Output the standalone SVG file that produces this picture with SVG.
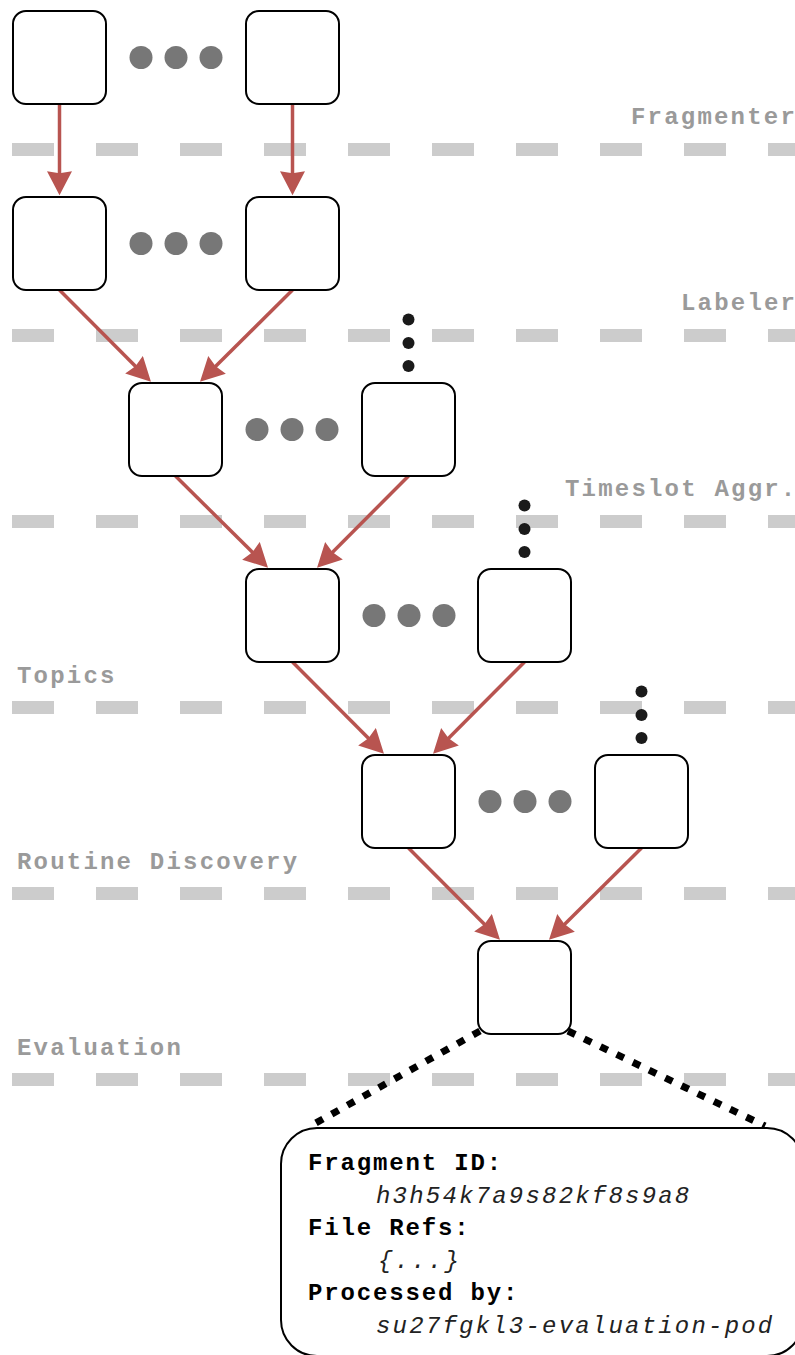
<svg xmlns="http://www.w3.org/2000/svg" width="795" height="1355" viewBox="0 0 795 1355">
  <style>
    .box { fill: #ffffff; stroke: #000000; stroke-width: 2; }
    .lane { stroke: #cccccc; stroke-width: 13; stroke-dasharray: 42 42; fill: none; }
    .lane-label { font-family: "Courier New", "Liberation Mono", monospace; font-weight: bold; font-size: 24px; letter-spacing: 2.2px; fill: #9a9a9a; }
    .more-h { fill: #777777; }
    .more-v { fill: #1a1a1a; }
    .flow { stroke: #b85450; stroke-width: 3.5; fill: none; marker-end: url(#head); }
    .zoom { stroke: #000000; stroke-width: 7; stroke-dasharray: 8 10; fill: none; }
    .key { font-family: "Courier New", "Liberation Mono", monospace; font-weight: bold; font-size: 24px; letter-spacing: 1.85px; fill: #000000; }
    .val { font-family: "Courier New", "Liberation Mono", monospace; font-style: italic; font-size: 24px; letter-spacing: 2.2px; fill: #222222; }
  </style>
  <defs>
    <marker id="head" markerUnits="userSpaceOnUse" markerWidth="26" markerHeight="26" refX="14" refY="12.5" orient="auto">
      <path d="M0,0 L24,12.5 L0,25 L2,12.5 Z" fill="#b85450"/>
    </marker>
  </defs>

  <!-- stage lanes -->
  <g id="lanes">
    <line class="lane" x1="12" y1="149.5" x2="795" y2="149.5"/>
    <line class="lane" x1="12" y1="335.5" x2="795" y2="335.5"/>
    <line class="lane" x1="12" y1="521.5" x2="795" y2="521.5"/>
    <line class="lane" x1="12" y1="707.5" x2="795" y2="707.5"/>
    <line class="lane" x1="12" y1="893.5" x2="795" y2="893.5"/>
    <line class="lane" x1="12" y1="1079.5" x2="795" y2="1079.5"/>
    <text class="lane-label" x="631" y="124">Fragmenter</text>
    <text class="lane-label" x="681" y="310">Labeler</text>
    <text class="lane-label" x="565" y="496">Timeslot Aggr.</text>
    <text class="lane-label" x="17" y="683">Topics</text>
    <text class="lane-label" x="17" y="869">Routine Discovery</text>
    <text class="lane-label" x="17" y="1055">Evaluation</text>
  </g>

  <!-- connectors -->
  <g id="connectors">
    <line class="flow" x1="59.5" y1="104" x2="59.5" y2="185.2"/>
    <line class="flow" x1="292.5" y1="104" x2="292.5" y2="185.2"/>
    <line class="flow" x1="59.5" y1="290" x2="143.9" y2="374.65"/>
    <line class="flow" x1="292.5" y1="290" x2="207.1" y2="374.65"/>
    <line class="flow" x1="175.5" y1="476" x2="260.9" y2="560.65"/>
    <line class="flow" x1="408.5" y1="476" x2="324.1" y2="560.65"/>
    <line class="flow" x1="292.5" y1="662" x2="376.9" y2="746.65"/>
    <line class="flow" x1="524.5" y1="662" x2="440.1" y2="746.65"/>
    <line class="flow" x1="408.5" y1="848" x2="492.9" y2="932.65"/>
    <line class="flow" x1="641.5" y1="848" x2="556.1" y2="932.65"/>
    <line class="zoom" x1="480" y1="1031" x2="314" y2="1124"/>
    <line class="zoom" x1="568" y1="1031" x2="765" y2="1126"/>
  </g>

  <!-- "more items" ellipses -->
  <g id="ellipses">
    <circle class="more-h" cx="141" cy="57.5" r="11.5"/>
    <circle class="more-h" cx="176" cy="57.5" r="11.5"/>
    <circle class="more-h" cx="211" cy="57.5" r="11.5"/>
    <circle class="more-h" cx="141" cy="243.5" r="11.5"/>
    <circle class="more-h" cx="176" cy="243.5" r="11.5"/>
    <circle class="more-h" cx="211" cy="243.5" r="11.5"/>
    <circle class="more-h" cx="257" cy="429.5" r="11.5"/>
    <circle class="more-h" cx="292" cy="429.5" r="11.5"/>
    <circle class="more-h" cx="327" cy="429.5" r="11.5"/>
    <circle class="more-h" cx="374" cy="615.5" r="11.5"/>
    <circle class="more-h" cx="409" cy="615.5" r="11.5"/>
    <circle class="more-h" cx="444" cy="615.5" r="11.5"/>
    <circle class="more-h" cx="490" cy="801.5" r="11.5"/>
    <circle class="more-h" cx="525" cy="801.5" r="11.5"/>
    <circle class="more-h" cx="560" cy="801.5" r="11.5"/>
    <circle class="more-v" cx="408.5" cy="319.5" r="6"/>
    <circle class="more-v" cx="408.5" cy="343" r="6"/>
    <circle class="more-v" cx="408.5" cy="366" r="6"/>
    <circle class="more-v" cx="524.5" cy="505.5" r="6"/>
    <circle class="more-v" cx="524.5" cy="529" r="6"/>
    <circle class="more-v" cx="524.5" cy="552" r="6"/>
    <circle class="more-v" cx="641.5" cy="691.5" r="6"/>
    <circle class="more-v" cx="641.5" cy="715" r="6"/>
    <circle class="more-v" cx="641.5" cy="738" r="6"/>
  </g>

  <!-- fragment nodes -->
  <g id="frag-0a"><rect class="box" x="13" y="11" width="93" height="93" rx="13"/></g>
  <g id="frag-0b"><rect class="box" x="246" y="11" width="93" height="93" rx="13"/></g>
  <g id="frag-1a"><rect class="box" x="13" y="197" width="93" height="93" rx="13"/></g>
  <g id="frag-1b"><rect class="box" x="246" y="197" width="93" height="93" rx="13"/></g>
  <g id="frag-2a"><rect class="box" x="129" y="383" width="93" height="93" rx="13"/></g>
  <g id="frag-2b"><rect class="box" x="362" y="383" width="93" height="93" rx="13"/></g>
  <g id="frag-3a"><rect class="box" x="246" y="569" width="93" height="93" rx="13"/></g>
  <g id="frag-3b"><rect class="box" x="478" y="569" width="93" height="93" rx="13"/></g>
  <g id="frag-4a"><rect class="box" x="362" y="755" width="93" height="93" rx="13"/></g>
  <g id="frag-4b"><rect class="box" x="595" y="755" width="93" height="93" rx="13"/></g>
  <g id="frag-5"><rect class="box" x="478" y="941" width="93" height="93" rx="13"/></g>

  <!-- detail card -->
  <g id="fragment-detail">
    <rect class="box" x="281" y="1128" width="522" height="228" rx="36"/>
    <text class="key" x="308" y="1170">Fragment ID:</text>
    <text class="val" x="376" y="1203">h3h54k7a9s82kf8s9a8</text>
    <text class="key" x="308" y="1235">File Refs:</text>
    <text class="val" x="378" y="1268">{...}</text>
    <text class="key" x="308" y="1300">Processed by:</text>
    <text class="val" x="376" y="1333">su27fgkl3-evaluation-pod</text>
  </g>
</svg>
